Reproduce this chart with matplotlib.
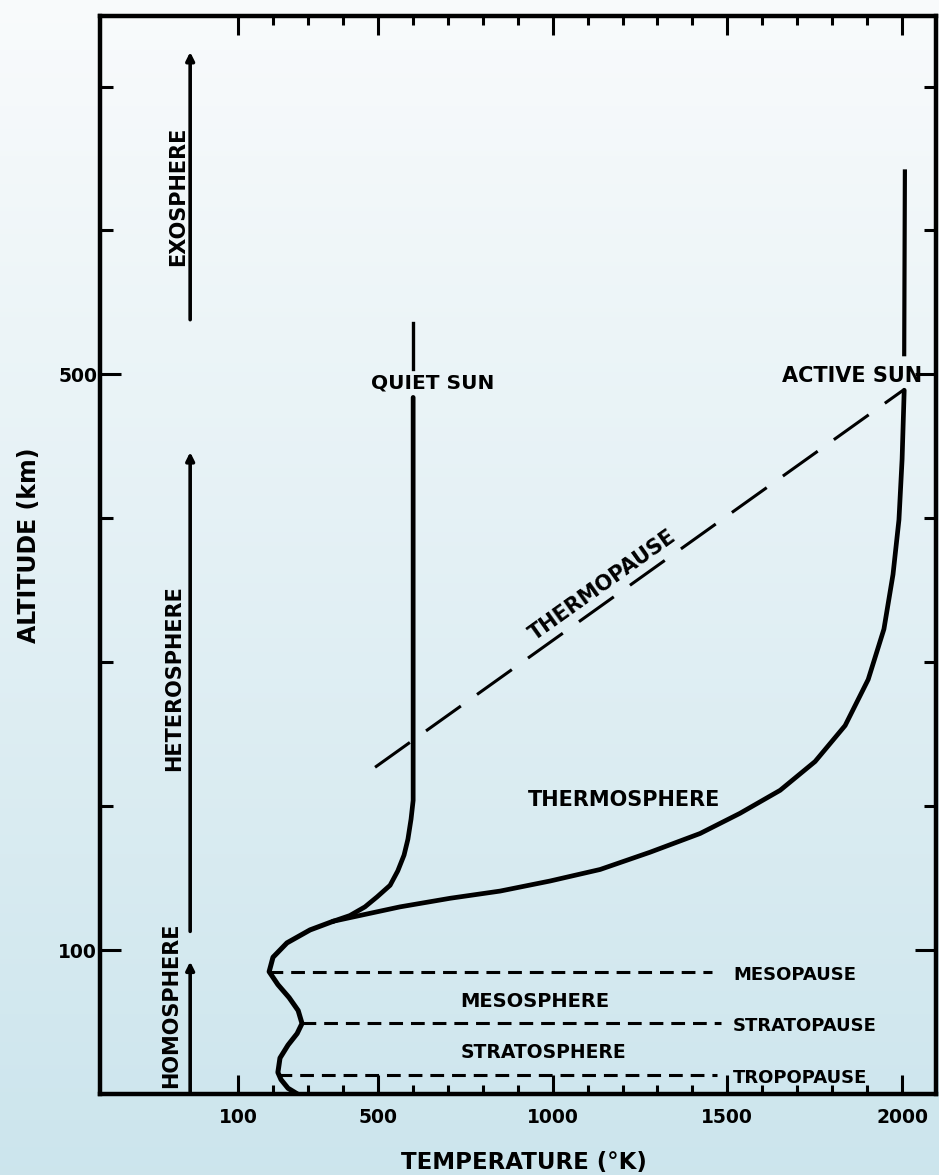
#!/bin/env python3
import numpy as np
import matplotlib
matplotlib.use('Agg')
from matplotlib import pyplot as plt

# temperature [K] / altitude [km]
lower_temp = [270, 243, 223, 214, 220, 243, 269, 283, 272, 246, 214, 189, 200, 240, 306, 372]
lower_alt  = [0, 4, 10, 15, 25, 34, 42, 49, 58, 67, 76, 85, 95, 105, 114, 120]

quiet_temp = [372, 420, 463, 498, 535, 557, 575, 586, 595, 601, 601, 601]
quiet_alt  = [120, 124, 130, 137, 145, 155, 166, 177, 191, 204, 216, 484]
quiet_top_temp = [601, 601]
quiet_top_alt  = [504, 536]

active_temp = [372, 429, 563, 707, 850, 993, 1136, 1279, 1422, 1536, 1651,
               1751, 1837, 1903, 1948, 1974, 1991, 2000, 2006]
active_alt  = [120, 123, 130, 136, 141, 148, 156, 168, 181, 195, 211,
               231, 256, 288, 323, 361, 399, 441, 489]
active_top_temp = [2006, 2008]
active_top_alt  = [514, 641]

thermopause_temp = [492, 2003]
thermopause_alt  = [227, 489]

pause_names = ['MESOPAUSE', 'STRATOPAUSE', 'TROPOPAUSE']
pause_alt   = [85, 49, 13]
pause_tmin  = [189, 283, 214]
pause_tmax  = [1456, 1482, 1470]

layer_names = ['EXOSPHERE', 'HETEROSPHERE', 'HOMOSPHERE']
layer_lo    = [538, 113, 0]
layer_hi    = [724, 446, 92]

xticks_major = [100, 500, 1000, 1500, 2000]
xticks_minor = [200, 300, 400, 600, 700, 800, 900, 1100, 1200, 1300, 1400,
                1600, 1700, 1800, 1900]
yticks_major = [100, 500]
yticks_minor = [200, 300, 400, 600, 700]


def plot(outname):
    plt.rcParams['font.family'] = ['DejaVu Sans']
    plt.rcParams['font.weight'] = 'bold'

    fig = plt.figure(figsize=(9.39, 11.75), dpi=100)

    # scanned-paper background: white at top to light blue at bottom
    bg = fig.add_axes([0, 0, 1, 1], zorder=0)
    top = np.array([0.976, 0.984, 0.988])
    bot = np.array([0.800, 0.898, 0.929])
    t = np.linspace(0, 1, 256)[:, None]
    grad = top[None, :] * (1 - t) + bot[None, :] * t
    bg.imshow(grad[:, None, :], aspect='auto', extent=[0, 1, 0, 1])
    bg.axis('off')

    ax = fig.add_axes([100/939, 81/1175, 836/939, 1078/1175], zorder=1)
    ax.set_facecolor('none')
    ax.set_xlim(-295, 2097)
    ax.set_ylim(0, 749)

    for sp in ax.spines.values():
        sp.set_linewidth(3.2)

    # temperature profiles
    ax.plot(lower_temp, lower_alt, color='black', lw=3.6, solid_capstyle='round',
            solid_joinstyle='round')
    ax.plot(quiet_temp, quiet_alt, color='black', lw=3.4, solid_capstyle='round',
            solid_joinstyle='round')
    ax.plot(quiet_top_temp, quiet_top_alt, color='black', lw=2.4)
    ax.plot(active_temp, active_alt, color='black', lw=3.4, solid_capstyle='round',
            solid_joinstyle='round')
    ax.plot(active_top_temp, active_top_alt, color='black', lw=3.0)

    # thermopause
    ax.plot(thermopause_temp, thermopause_alt, color='black', lw=2.2,
            dashes=(14, 6.5))

    # pause levels
    for name, a, t0, t1 in zip(pause_names, pause_alt, pause_tmin, pause_tmax):
        ax.plot([t0, t1], [a, a], color='black', lw=2.2, dashes=(4.5, 2.6))
        ax.text(1516, a - 2, name, fontsize=13, va='center', ha='left')

    ax.text(950, 64, 'MESOSPHERE', fontsize=14, ha='center', va='center')
    ax.text(973, 28.5, 'STRATOSPHERE', fontsize=13.5, ha='center', va='center')
    ax.text(930, 204, 'THERMOSPHERE', fontsize=15, ha='left', va='center')
    ax.text(480, 494, 'QUIET SUN', fontsize=14.5, ha='left', va='center')
    ax.text(2057, 499, 'ACTIVE SUN', fontsize=15, ha='right', va='center')

    # thermopause label along the dashed line
    p0 = ax.transData.transform((thermopause_temp[0], thermopause_alt[0]))
    p1 = ax.transData.transform((thermopause_temp[1], thermopause_alt[1]))
    ang = np.degrees(np.arctan2(p1[1]-p0[1], p1[0]-p0[0]))
    tlab = 1160
    frac = (tlab - thermopause_temp[0]) / (thermopause_temp[1] - thermopause_temp[0])
    a_on = thermopause_alt[0] + frac*(thermopause_alt[1] - thermopause_alt[0])
    ax.text(tlab, a_on + 5, 'THERMOPAUSE', fontsize=15, rotation=ang,
            rotation_mode='anchor', ha='center', va='bottom')

    # atmosphere regions on the left
    label_pos = [(-72, 624), (-83, 289), (-92, 62)]
    for name, lo, hi, (tx, ty) in zip(layer_names, layer_lo, layer_hi, label_pos):
        ax.annotate('', xy=(-37, hi), xytext=(-37, lo),
                    arrowprops=dict(arrowstyle='-|>', lw=2.6, color='black',
                                    mutation_scale=12, shrinkA=0, shrinkB=0))
        ax.text(tx, ty, name, fontsize=15, rotation=90, ha='center', va='center')

    # ticks
    ax.set_xticks(xticks_major)
    ax.set_xticks(xticks_minor, minor=True)
    ax.set_yticks(yticks_major)
    ax.set_yticks(yticks_minor, minor=True)
    ax.tick_params(which='both', direction='in', top=True, right=True,
                   width=2.2, color='black')
    ax.tick_params(axis='x', which='major', length=14, pad=10, labelsize=13.5)
    ax.tick_params(axis='x', which='minor', length=6.5)
    ax.tick_params(axis='y', which='major', length=15, pad=2, labelsize=13.5)
    ax.tick_params(axis='y', which='minor', length=9)

    fig.text(524/939, 1 - 1163/1175, 'TEMPERATURE (\u00b0K)', fontsize=16.5,
             ha='center', va='center')
    fig.text(29/939, 1 - 545/1175, 'ALTITUDE (km)', fontsize=17,
             rotation=90, ha='center', va='center')

    fig.savefig(outname, dpi=100)
    return 0


if __name__ == '__main__':
    plot('out.png')
